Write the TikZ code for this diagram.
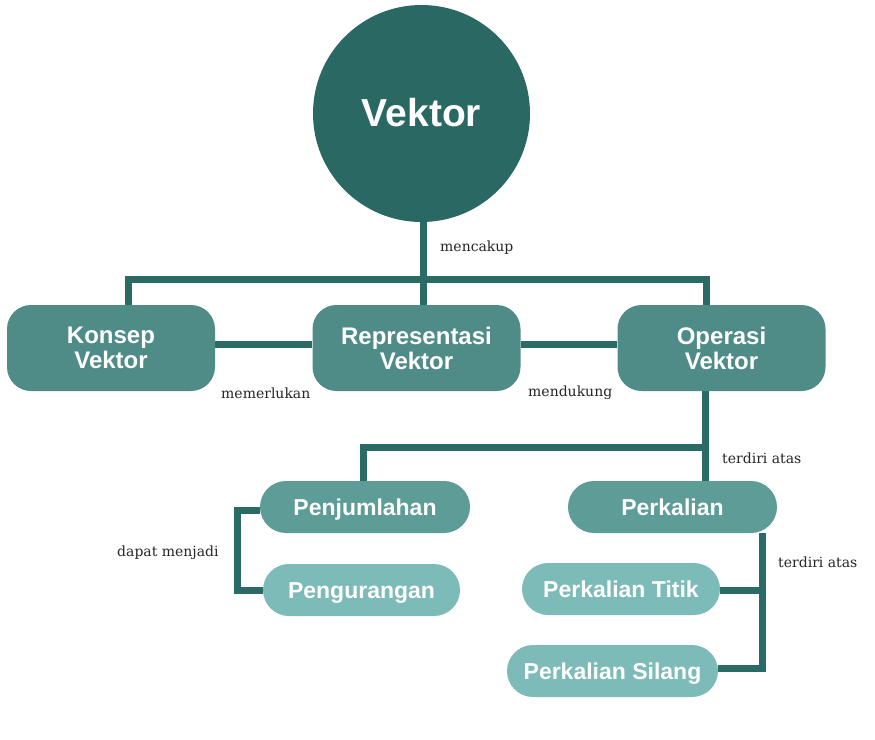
\documentclass[tikz,border=0pt]{standalone}
\usepackage{fontspec}
\setmainfont{DejaVu Serif}
\newfontfamily\boxfont{Liberation Sans}
\pgfdeclarelayer{bg}
\pgfdeclarelayer{back}
\pgfsetlayers{back,bg,main}
\definecolor{dark}{HTML}{2A6864}
\definecolor{line}{HTML}{2B6B66}
\definecolor{mid}{HTML}{4F8C88}
\definecolor{mid2}{HTML}{5E9C98}
\definecolor{light}{HTML}{7DBBB8}
\begin{document}
\begin{tikzpicture}[x=1pt,y=-1pt,
  conn/.style={line, line width=7pt, line join=miter},
  rbox/.style={rectangle, rounded corners=24pt, fill=mid, text=white, font=\boxfont\bfseries\fontsize{24}{25}\selectfont, align=center, minimum width=208pt, minimum height=86pt, inner sep=0pt},
  pill/.style={rectangle, rounded corners=26pt, text=white, font=\boxfont\bfseries\fontsize{23}{23}\selectfont, minimum height=52pt, inner sep=0pt, text height=16.5pt, text depth=0pt},
  lbl/.style={font=\fontsize{14}{15}\selectfont, text=black!85, inner sep=0pt, anchor=west}
]
\begin{pgfonlayer}{back}
\fill[white] (0,0) rectangle (875,739);
\end{pgfonlayer}
\useasboundingbox (0,0) rectangle (875,739);
% nodes
\node[circle, fill=dark, minimum size=217pt, inner sep=0pt, text=white, font=\boxfont\bfseries\fontsize{39}{39}\selectfont, text height=25pt, text depth=0pt] (vek) at (421.5,113.5) {Vektor};
\node[rbox] (kon) at (111,348) {Konsep\\Vektor};
\node[rbox] (rep) at (416.5,348) {Representasi\\Vektor};
\node[rbox] (ope) at (721.5,348) {Operasi\\Vektor};
\node[pill, fill=mid2, minimum width=210pt] (pjm) at (365,507) {Penjumlahan};
\node[pill, fill=light, minimum width=197pt] (pgr) at (361.5,590) {Pengurangan};
\node[pill, fill=mid2, minimum width=209pt] (pkl) at (672.5,507) {Perkalian};
\node[pill, fill=light, minimum width=198pt] (ptt) at (621,589) {Perkalian Titik};
\node[pill, fill=light, minimum width=211pt] (psl) at (612.5,671) {Perkalian Silang};
% junction coordinates
\coordinate (bus) at (423,279);
\coordinate (busL) at (128,279);
\coordinate (busR) at (706,279);
\coordinate (j2) at (705,447);
\coordinate (j2L) at (363,447);
\coordinate (j3a) at (762,533);
\coordinate (j3t) at (762,590);
\coordinate (j3s) at (762,668);
\coordinate (j4a) at (237,510);
\coordinate (j4b) at (237,590);
% connectors
\begin{pgfonlayer}{bg}
\draw[conn] (vek.south -| bus) -- (rep.north -| bus);
\draw[conn] (busL |- kon.north) -- (busL) -- (busR) -- (busR |- ope.north);
\draw[conn] (kon.east |- 0,344) -- (rep.west |- 0,344);
\draw[conn] (rep.east |- 0,344) -- (ope.west |- 0,344);
\draw[conn] (ope.south -| j2) -- (j2) -- (pkl.north -| j2);
\draw[conn] (j2) -- (j2L) -- (pjm.north -| j2L);
\draw[conn] (j3a) -- (j3s) -- (psl.east |- j3s);
\draw[conn] (j3t) -- (ptt.east |- j3t);
\draw[conn] (pjm.west |- j4a) -- (j4a) -- (j4b) -- (pgr.west |- j4b);
\end{pgfonlayer}
% labels
\node[lbl] (l1) at (440,248) {mencakup};
\node[lbl] (l2) at (221,393) {memerlukan};
\node[lbl] (l3) at (528,393) {mendukung};
\node[lbl] (l4) at (722,458) {terdiri atas};
\node[lbl] (l5) at (778,562) {terdiri atas};
\node[lbl] (l6) at (117,553) {dapat menjadi};
\end{tikzpicture}
\end{document}
